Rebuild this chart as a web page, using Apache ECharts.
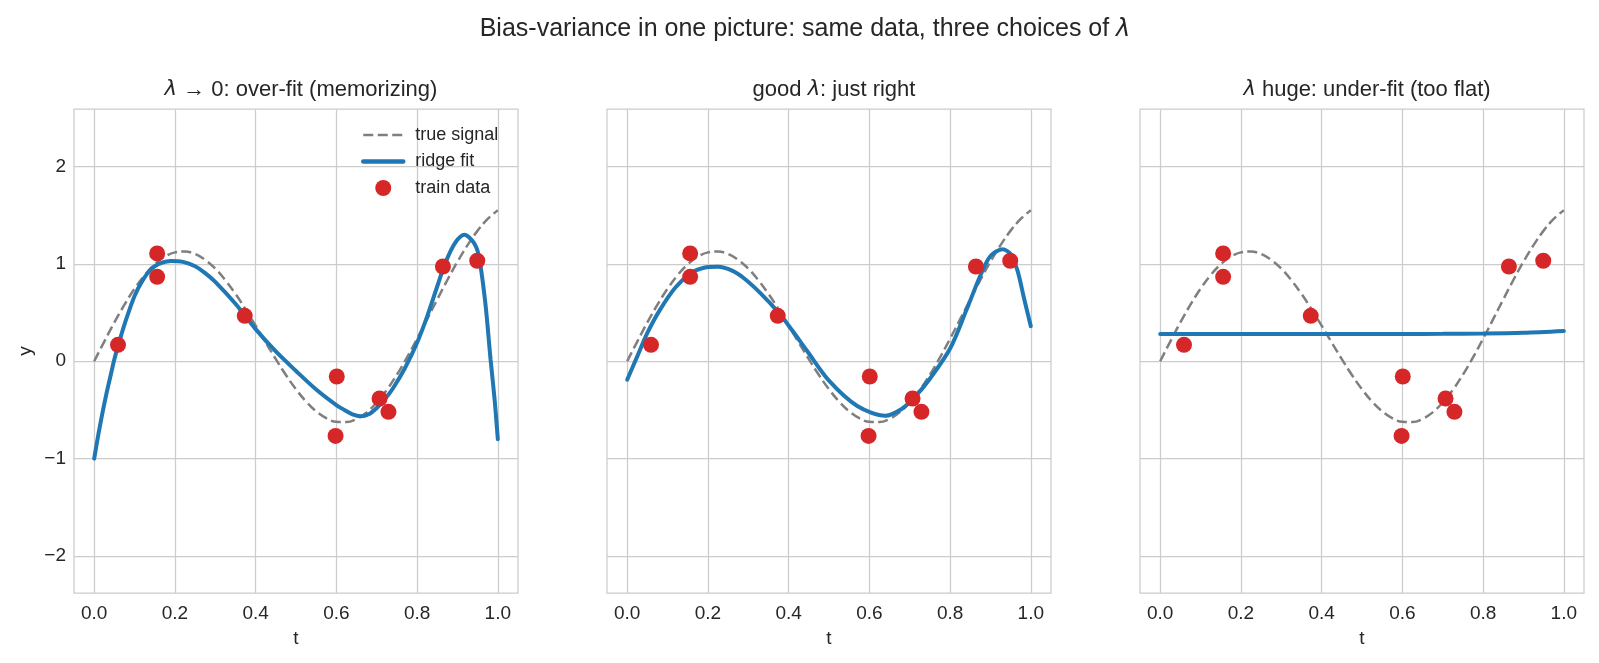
<!DOCTYPE html>
<html>
<head>
<meta charset="utf-8">
<script src="https://cdn.jsdelivr.net/npm/echarts@6/dist/echarts.min.js"></script>
<style>
  html, body { margin: 0; padding: 0; background: #fff; }
  #chart { width: 1599px; height: 663px; }
</style>
</head>
<body>
<div id="chart"></div>
<script>
// 数据：训练点（三幅图相同）
var trainT = [0.059, 0.156, 0.156, 0.373, 0.601, 0.598, 0.707, 0.729, 0.864, 0.949];
var trainY = [0.168, 1.107, 0.867, 0.466, -0.157, -0.767, -0.383, -0.52, 0.973, 1.032];

// 真实信号
var signalT = [0, 0.025, 0.05, 0.075, 0.1, 0.125, 0.15, 0.175, 0.2, 0.225, 0.25, 0.275,
  0.3, 0.325, 0.35, 0.375, 0.4, 0.425, 0.45, 0.475, 0.5, 0.525, 0.55, 0.575, 0.6,
  0.625, 0.65, 0.675, 0.7, 0.725, 0.75, 0.775, 0.8, 0.825, 0.85, 0.875, 0.9, 0.925,
  0.95, 0.975, 1.0];
var signalY = [0, 0.202, 0.398, 0.581, 0.745, 0.884, 0.995, 1.074, 1.118, 1.127, 1.101, 1.041,
  0.951, 0.832, 0.692, 0.534, 0.365, 0.192, 0.021, -0.141, -0.288, -0.414, -0.514, -0.585, -0.622,
  -0.625, -0.592, -0.525, -0.424, -0.294, -0.138, 0.039, 0.231, 0.432, 0.635, 0.834, 1.022, 1.192,
  1.341, 1.461, 1.551];

// λ → 0：过拟合
var overT = [0, 0.01, 0.02, 0.03, 0.04, 0.05, 0.06, 0.07, 0.08, 0.1, 0.12, 0.14, 0.16, 0.19,
  0.22, 0.25, 0.275, 0.3, 0.35, 0.4, 0.45, 0.5, 0.55, 0.6, 0.62, 0.64, 0.66, 0.68, 0.7, 0.72, 0.74,
  0.77, 0.8, 0.825, 0.85, 0.87, 0.895, 0.917, 0.94, 0.953, 0.969, 0.982, 0.992, 1.0];
var overY = [-1.0, -0.76, -0.54, -0.34, -0.16, 0.02, 0.17, 0.31, 0.44, 0.67, 0.83, 0.94, 1.0, 1.03,
  1.02, 0.975, 0.905, 0.815, 0.59, 0.33, 0.1, -0.1, -0.29, -0.45, -0.5, -0.545, -0.565, -0.545, -0.48, -0.39, -0.28,
  -0.07, 0.19, 0.46, 0.77, 1.01, 1.22, 1.3, 1.22, 1.08, 0.6, 0.02, -0.39, -0.8];

// 合适的 λ
var goodT = [0, 0.025, 0.05, 0.08, 0.12, 0.16, 0.19, 0.225, 0.26, 0.29, 0.33, 0.375, 0.41,
  0.445, 0.5, 0.57, 0.64, 0.68, 0.71, 0.75, 0.8, 0.84, 0.875, 0.9, 0.93, 0.95, 0.967, 0.983, 1.0];
var goodY = [-0.19, 0.05, 0.29, 0.52, 0.76, 0.91, 0.96, 0.97, 0.93, 0.85, 0.7, 0.5, 0.31,
  0.11, -0.2, -0.46, -0.56, -0.49, -0.38, -0.18, 0.13, 0.52, 0.88, 1.08, 1.15, 1.1, 0.93, 0.65, 0.36];

// λ 很大：欠拟合
var flatT = [0, 0.2, 0.4, 0.6, 0.7, 0.8, 0.9, 1.0];
var flatY = [0.28, 0.28, 0.28, 0.28, 0.281, 0.284, 0.292, 0.31];

// 刻度
var xTicks = [0, 0.2, 0.4, 0.6, 0.8, 1.0];
var yTicks = [-2, -1, 0, 1, 2];

var panelTitles = [
  "{i|λ} → 0: over-fit (memorizing)",
  "good {i|λ}: just right",
  "{i|λ} huge: under-fit (too flat)",
];

(function () {
  var myChart = echarts.init(document.getElementById("chart"));

  function pairs(xs, ys) {
    return xs.map(function (x, i) { return [x, ys[i]]; });
  }

  var fits = [pairs(overT, overY), pairs(goodT, goodY), pairs(flatT, flatY)];
  var signal = pairs(signalT, signalY);
  var train = pairs(trainT, trainY);

  var font = "'Liberation Sans', Arial, sans-serif";
  var textColor = "#262626";
  var gridLefts = [74, 607, 1140];
  var gridW = 444;

  var grids = [], xAxes = [], yAxes = [], series = [], titles = [];

  //总标题
  titles.push({
    text: "Bias-variance in one picture: same data, three choices of {i|λ}",
    left: 800,
    textAlign: "center",
    top: 12,
    textStyle: {
      fontFamily: font, fontSize: 25, fontWeight: "normal", color: textColor,
      rich: { i: { fontFamily: "'DejaVu Sans'", fontStyle: "italic", fontSize: 24, color: textColor } },
    },
  });

  for (var k = 0; k < 3; k++) {
    grids.push({
      left: gridLefts[k], top: 109, width: gridW, height: 484,
      show: true, borderColor: "#cccccc", borderWidth: 1.25,
    });
    titles.push({
      text: panelTitles[k],
      left: gridLefts[k] + gridW / 2,
      textAlign: "center",
      top: 74,
      textStyle: {
        fontFamily: font, fontSize: 22, fontWeight: "normal", color: textColor,
        rich: { i: { fontFamily: "'DejaVu Sans'", fontStyle: "italic", fontSize: 21, color: textColor } },
      },
    });
    xAxes.push({
      type: "value", gridIndex: k, min: -0.05, max: 1.05,
      name: "t", nameLocation: "middle", nameGap: 36,
      nameTextStyle: { fontFamily: font, fontSize: 19, color: textColor },
      axisLine: { show: false },
      axisTick: { show: false, customValues: xTicks },
      axisLabel: {
        customValues: xTicks, margin: 11,
        fontFamily: font, fontSize: 19, color: textColor,
        formatter: function (v) { return v.toFixed(1); },
      },
      splitLine: { show: true, lineStyle: { color: "#cccccc", width: 1.25 } },
    });
    yAxes.push({
      type: "value", gridIndex: k, min: -2.38, max: 2.59,
      name: k === 0 ? "y" : "", nameLocation: "middle", nameGap: 39,
      nameTextStyle: { fontFamily: font, fontSize: 19, color: textColor },
      axisLine: { show: false },
      axisTick: { show: false, customValues: yTicks },
      axisLabel: {
        show: k === 0, customValues: yTicks, margin: 8,
        fontFamily: font, fontSize: 19, color: textColor,
        formatter: function (v) { return v < 0 ? "\u2212" + Math.abs(v) : String(v); },
      },
      splitLine: { show: true, lineStyle: { color: "#cccccc", width: 1.25 } },
    });

    series.push({
      name: "true signal", type: "line", xAxisIndex: k, yAxisIndex: k,
      data: signal, smooth: 0.4, symbol: "none",
      lineStyle: { color: "#7f7f7f", width: 2.5, type: [10, 4.5] },
      itemStyle: { color: "#7f7f7f" }, z: 2,
    });
    series.push({
      name: "ridge fit", type: "line", xAxisIndex: k, yAxisIndex: k,
      data: fits[k], smooth: 0.3, symbol: "none",
      lineStyle: { color: "#1f77b4", width: 4, cap: "round" },
      itemStyle: { color: "#1f77b4" }, z: 3,
    });
    series.push({
      name: "train data", type: "scatter", xAxisIndex: k, yAxisIndex: k,
      data: train, symbolSize: 16,
      itemStyle: { color: "#d62728", opacity: 1 }, z: 4,
    });
  }

  var option = {
    backgroundColor: "#ffffff",
    animation: false,
    title: titles,
    //图例：线条项不显示圆点
    legend: {
      data: [
        { name: "true signal", itemStyle: { opacity: 0 }, lineStyle: { width: 2.5 } },
        { name: "ridge fit", itemStyle: { opacity: 0 }, lineStyle: { width: 4.5 } },
        { name: "train data" },
      ],
      orient: "vertical",
      left: 356, top: 121,
      itemWidth: 40, itemHeight: 16, itemGap: 8.5,
      textStyle: { fontFamily: font, fontSize: 18, color: textColor, padding: [0, 0, 0, 7] },
    },
    grid: grids,
    xAxis: xAxes,
    yAxis: yAxes,
    series: series,
  };

  myChart.setOption(option);
  window.addEventListener("resize", function () {
    myChart.resize();
  });
})();
</script>
</body>
</html>
